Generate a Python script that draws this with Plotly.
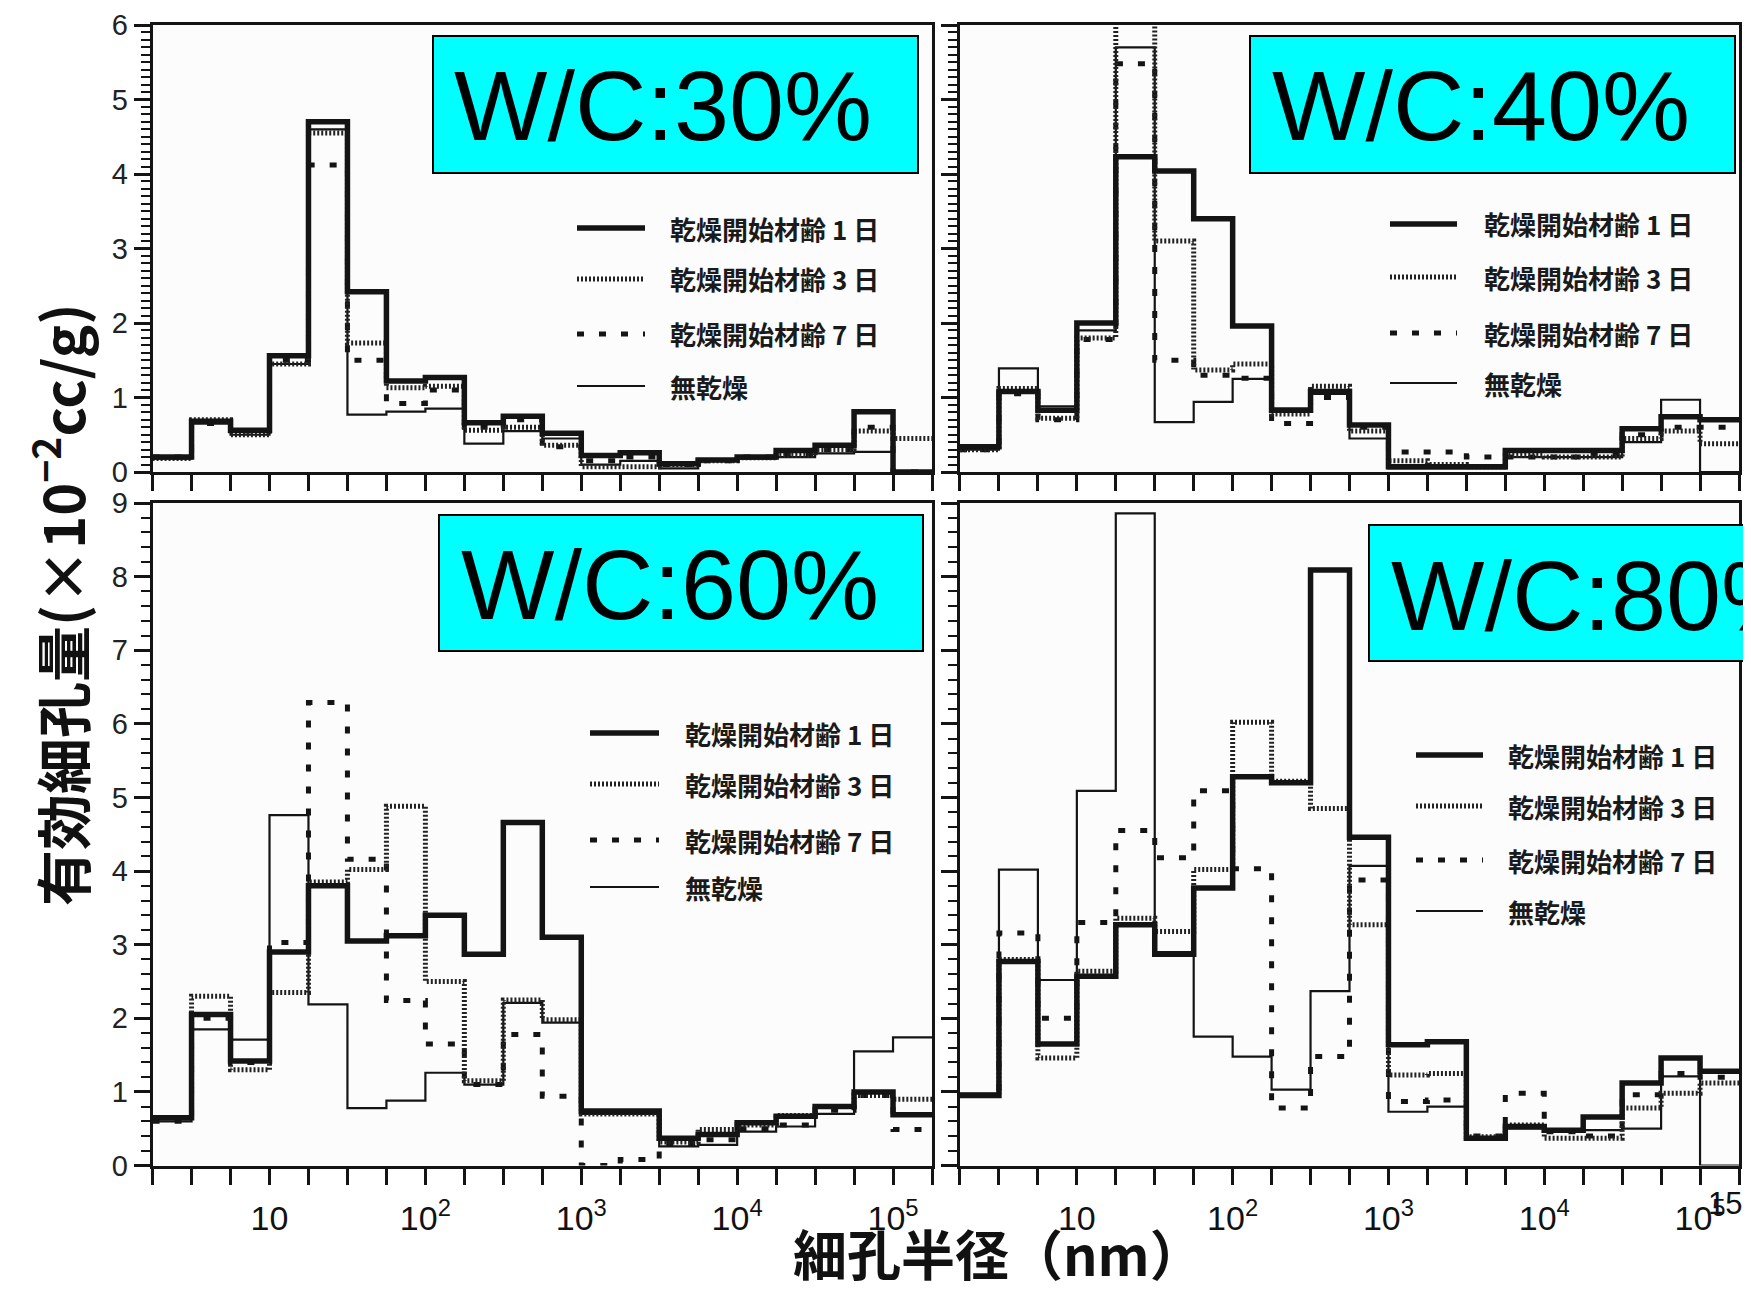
import plotly.graph_objects as go

# page body has an 8px margin: keep the figure inside the 1751x1296 window
OFF = 8
W, H = 1751 - 2 * OFF, 1296 - 2 * OFF

# ---- bin edges (pore radius, nm): quarter-decade bins from 10^0.25 to 10^5.25
EDGES_NM = [1.778, 3.162, 5.623, 10, 17.78, 31.62, 56.23, 100, 177.8, 316.2, 562.3,
            1000, 1778, 3162, 5623, 10000, 17783, 31623, 56234, 100000, 177828]
DECADE_TICKS = [10, 100, 1000, 10000, 100000]
DECADE_TEXT = ["10", "10<sup>2</sup>", "10<sup>3</sup>", "10<sup>4</sup>", "10<sup>5</sup>"]
MINOR_TICKS = [v for v in EDGES_NM if v not in DECADE_TICKS]

SERIES_NAMES = ["乾燥開始材齢 1 日", "乾燥開始材齢 3 日", "乾燥開始材齢 7 日", "無乾燥"]

# ---- W/C 30 %
wc30_d1 = [0.20, 0.68, 0.56, 1.56, 4.70, 2.42, 1.22, 1.27, 0.66, 0.75, 0.52, 0.22, 0.26, 0.11, 0.16, 0.20, 0.29, 0.36, 0.81, 0.00]
wc30_d3 = [0.18, 0.70, 0.50, 1.45, 4.55, 1.73, 1.13, 1.15, 0.56, 0.60, 0.36, 0.07, 0.07, 0.10, 0.15, 0.19, 0.22, 0.30, 0.55, 0.45]
wc30_d7 = [0.20, 0.65, 0.55, 1.50, 4.12, 1.50, 0.92, 1.10, 0.60, 0.70, 0.34, 0.15, 0.20, 0.10, 0.15, 0.20, 0.25, 0.30, 0.60, 0.00]
wc30_nd = [0.18, 0.65, 0.50, 1.45, 4.60, 0.77, 0.81, 0.85, 0.38, 0.55, 0.45, 0.10, 0.15, 0.05, 0.15, 0.18, 0.20, 0.25, 0.27, 0.00]

# ---- W/C 40 %
wc40_d1 = [0.34, 1.08, 0.83, 2.00, 4.23, 4.04, 3.40, 1.96, 0.83, 1.08, 0.63, 0.07, 0.07, 0.07, 0.29, 0.29, 0.29, 0.58, 0.74, 0.70]
wc40_d3 = [0.30, 1.12, 0.72, 1.80, 6.05, 3.10, 1.37, 1.45, 0.78, 1.15, 0.55, 0.15, 0.10, 0.07, 0.22, 0.20, 0.20, 0.45, 0.55, 0.38]
wc40_d7 = [0.30, 1.05, 0.70, 1.78, 5.48, 1.50, 1.30, 1.26, 0.65, 1.00, 0.60, 0.27, 0.27, 0.20, 0.20, 0.20, 0.25, 0.50, 0.60, 0.60]
wc40_nd = [0.30, 1.39, 0.88, 1.90, 5.70, 0.67, 0.94, 1.25, 0.85, 1.05, 0.45, 0.05, 0.05, 0.05, 0.20, 0.20, 0.20, 0.40, 0.97, 0.00]

# ---- W/C 60 %
wc60_d1 = [0.65, 2.05, 1.42, 2.90, 3.80, 3.05, 3.12, 3.40, 2.87, 4.66, 3.10, 0.74, 0.74, 0.37, 0.42, 0.58, 0.67, 0.80, 1.00, 0.69]
wc60_d3 = [0.65, 2.30, 1.30, 2.35, 3.85, 4.02, 4.88, 2.50, 1.15, 2.25, 1.98, 0.70, 0.70, 0.32, 0.49, 0.55, 0.68, 0.80, 0.95, 0.90]
wc60_d7 = [0.60, 2.00, 1.40, 3.03, 6.29, 4.16, 2.24, 1.65, 1.10, 1.78, 0.94, 0.00, 0.08, 0.30, 0.35, 0.50, 0.55, 0.75, 0.95, 0.49]
wc60_nd = [0.60, 1.85, 1.71, 4.76, 2.19, 0.78, 0.88, 1.26, 1.10, 2.21, 1.94, 0.70, 0.70, 0.26, 0.28, 0.46, 0.53, 0.70, 1.55, 1.74]

# ---- W/C 80 %
wc80_d1 = [0.95, 2.77, 1.65, 2.57, 3.27, 2.87, 3.77, 5.28, 5.20, 8.09, 4.46, 1.64, 1.68, 0.37, 0.53, 0.48, 0.66, 1.12, 1.46, 1.28]
wc80_d3 = [0.95, 2.80, 1.46, 2.64, 3.36, 3.18, 4.02, 6.02, 5.22, 4.85, 3.27, 1.23, 1.25, 0.39, 0.55, 0.37, 0.37, 0.78, 0.98, 1.12]
wc80_d7 = [0.95, 3.16, 2.00, 3.30, 4.55, 4.18, 5.09, 4.03, 0.78, 1.48, 3.88, 0.87, 0.89, 0.40, 0.98, 0.46, 0.40, 0.96, 1.25, 1.20]
wc80_nd = [0.98, 4.02, 2.52, 5.09, 8.86, 2.90, 1.75, 1.48, 1.03, 2.37, 4.07, 0.73, 0.80, 0.37, 0.50, 0.47, 0.48, 0.50, 1.21, 0.00]

PANEL_LABELS = ["W/C:30%", "W/C:40%", "W/C:60%", "W/C:80%"]
PANELS = [
    (wc30_d1, wc30_d3, wc30_d7, wc30_nd),
    (wc40_d1, wc40_d3, wc40_d7, wc40_nd),
    (wc60_d1, wc60_d3, wc60_d7, wc60_nd),
    (wc80_d1, wc80_d3, wc80_d7, wc80_nd),
]

INK = "#141414"
STYLES = [
    dict(color=INK, width=5.5, dash="solid"),        # 1 day
    dict(color="#222222", width=5, dash="2px,2px"),   # 3 days (hatched)
    dict(color=INK, width=5, dash="7px,15px"),        # 7 days
    dict(color=INK, width=2.2, dash="solid"),         # no drying
]


def px(xp):
    return (xp - OFF) / W


def py(yp):
    return 1 - (yp - OFF) / H


# panel geometry (window pixels)
X_DOM = [(152.6, 932.0), (960.0, 1739.0)]
Y_DOM = [(25.0, 472.0), (503.0, 1165.5)]
Y_MAX = [6, 9]
Y_MINOR = [0.1, 0.2]

fig = go.Figure()

for p, series in enumerate(PANELS):
    col, row = p % 2, p // 2
    sfx = "" if p == 0 else str(p + 1)
    for s in [3, 2, 1, 0]:
        vals = series[s]
        fig.add_trace(go.Scatter(
            x=EDGES_NM, y=list(vals) + [vals[-1]],
            mode="lines", name=SERIES_NAMES[s],
            line=dict(shape="hv", **STYLES[s]),
            xaxis="x" + sfx, yaxis="y" + sfx, showlegend=False,
            hoverinfo="skip",
        ))

    xd = X_DOM[col]
    yd = Y_DOM[row]
    fig.layout["xaxis" + sfx] = dict(
        type="log", range=[0.25, 5.25], domain=[px(xd[0]), px(xd[1])],
        anchor="y" + sfx, tickmode="array", tickvals=DECADE_TICKS, ticktext=DECADE_TEXT,
        ticks="outside", ticklen=16, tickwidth=2.5, tickcolor=INK,
        minor=dict(tickmode="array", tickvals=MINOR_TICKS, ticks="outside",
                   ticklen=16, tickwidth=2.5, tickcolor=INK, showgrid=False),
        showticklabels=(row == 1), showgrid=False, zeroline=False,
        showline=True, linecolor=INK, linewidth=3, mirror=True,
        tickfont=dict(family="Liberation Sans Narrow, Liberation Sans, Arial", size=34, color="#111"),
        ticklabelstandoff=5, automargin=False,
    )
    fig.layout["yaxis" + sfx] = dict(
        range=[0, Y_MAX[row]], domain=[py(yd[1]), py(yd[0])],
        anchor="x" + sfx, tickmode="linear", tick0=0, dtick=1,
        ticks="outside", ticklen=16, tickwidth=2.5, tickcolor=INK,
        minor=dict(dtick=Y_MINOR[row], ticks="outside", ticklen=9, tickwidth=2, tickcolor=INK),
        showticklabels=(col == 0), showgrid=False, zeroline=False,
        showline=True, linecolor=INK, linewidth=3, mirror=True,
        tickfont=dict(family="Liberation Sans, Arial", size=29, color="#222"),
        automargin=False,
    )

shapes = []
annotations = []

# W/C label boxes (window pixel boxes) and text origins
BOXES = [(433, 36, 918, 173), (1250, 36, 1735, 173), (439, 515, 923, 651), (1369, 525, 1760, 661)]
TEXT_POS = [(452, 106), (1270, 106), (459, 584), (1389, 595)]
for i, (x0, y0, x1, y1) in enumerate(BOXES):
    shapes.append(dict(type="rect", xref="paper", yref="paper",
                       x0=px(x0), x1=px(x1), y0=py(y1), y1=py(y0),
                       fillcolor="#00ffff", line=dict(color="#000", width=2), layer="above"))
    tx, ty = TEXT_POS[i]
    annotations.append(dict(text=PANEL_LABELS[i], xref="paper", yref="paper",
                            x=px(tx), y=py(ty), xanchor="left", yanchor="middle",
                            showarrow=False,
                            font=dict(family="Liberation Sans, Arial", size=99, color="#000")))

# per-panel legends: sample line x-range, text x, row y positions
LEGENDS = [
    ((577, 645), 668, [228, 279, 334, 386]),
    ((1390, 1457), 1482, [224, 277, 333, 383]),
    ((590, 659), 683, [733, 784, 840, 887]),
    ((1416, 1483), 1506, [755, 806, 860, 911]),
]
for (lx0, lx1), tx, rows in LEGENDS:
    for s in range(4):
        st = STYLES[s]
        shapes.append(dict(type="line", xref="paper", yref="paper",
                           x0=px(lx0), x1=px(lx1), y0=py(rows[s]), y1=py(rows[s]),
                           line=dict(color=st["color"], width=st["width"], dash=st["dash"]),
                           layer="above"))
        annotations.append(dict(text=SERIES_NAMES[s], xref="paper", yref="paper",
                                x=px(tx), y=py(rows[s]), xanchor="left", yanchor="middle",
                                showarrow=False,
                                font=dict(family="Noto Sans CJK JP", size=26, color="#1a1a1a",
                                          weight="bold")))

# axis titles
annotations.append(dict(text="有効細孔量(×10<sup>−2</sup>cc/g)", xref="paper", yref="paper",
                        x=px(58), y=py(605), xanchor="center", yanchor="middle",
                        textangle=-90, showarrow=False,
                        font=dict(family="Noto Sans CJK JP", size=56, color="#111", weight="bold")))
annotations.append(dict(text="細孔半径（nm）", xref="paper", yref="paper",
                        x=px(998), y=py(1252), xanchor="center", yanchor="middle",
                        showarrow=False,
                        font=dict(family="Noto Sans CJK JP", size=54, color="#111", weight="bold")))
# stray "15" printed next to the last tick label of the right panel
annotations.append(dict(text="15", xref="paper", yref="paper",
                        x=px(1725), y=py(1203), xanchor="center", yanchor="middle",
                        showarrow=False,
                        font=dict(family="Liberation Sans Narrow, Liberation Sans, Arial", size=31, color="#111")))

fig.update_layout(
    width=W, height=H, autosize=False,
    margin=dict(l=0, r=0, t=0, b=0, pad=0, autoexpand=False),
    paper_bgcolor="#ffffff", plot_bgcolor="#fcfcfc",
    shapes=shapes, annotations=annotations, showlegend=False,
)

fig.write_html("out.html")
